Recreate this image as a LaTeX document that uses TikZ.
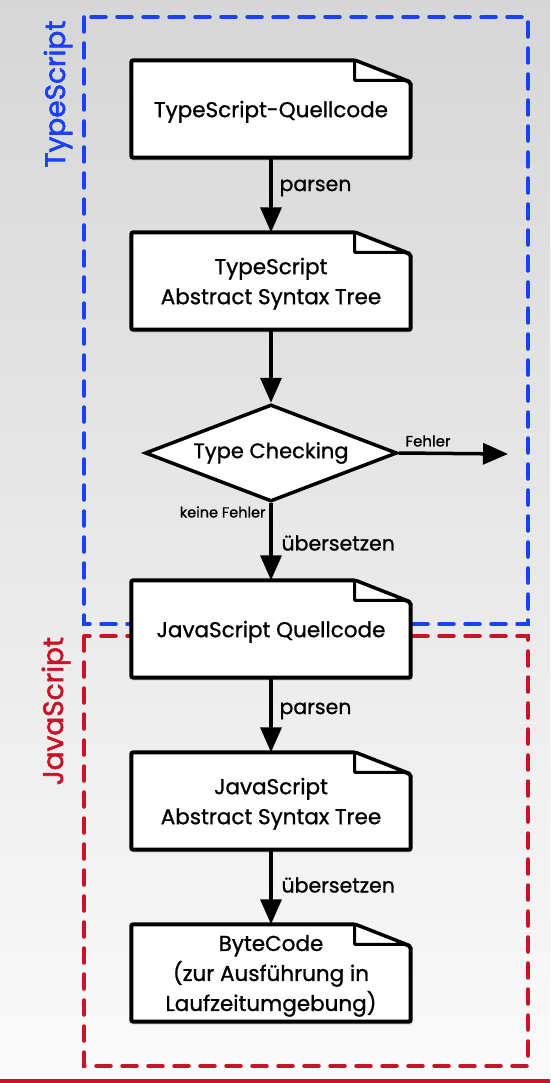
\documentclass[tikz,border=0pt]{standalone}
\usepackage{fontspec}
\setmainfont{Poppins}[FakeBold=1]
\usetikzlibrary{shapes.geometric,arrows.meta,shadows}
\definecolor{tsblue}{RGB}{25,65,250}
\definecolor{jsred}{RGB}{200,20,40}
\pgfdeclarelayer{bg}
\pgfsetlayers{bg,main}

\begin{document}
\begin{tikzpicture}[
  x=1pt, y=-1pt,
  doc/.style={minimum width=279pt, minimum height=97pt, inner sep=0pt, align=center, text depth=0pt, font=\fontsize{21.5}{30}\selectfont},
  check/.style={diamond, draw, line width=3.5pt, fill=white, aspect=2.6, minimum width=252pt, minimum height=97pt, inner sep=0pt, font=\fontsize{21}{24}\selectfont},
  flow/.style={line width=3.5pt, -{Triangle[length=25pt,width=21pt]}},
  lbl/.style={anchor=west, font=\fontsize{20.5}{22}\selectfont},
  small/.style={font=\fontsize{14.5}{16}\selectfont},
  area/.style={rotate=90, font=\fontsize{28}{30}\selectfont\addfontfeature{FakeBold=2}},
  frame/.style={line width=3.5pt, dash pattern=on 15pt off 11pt, line cap=round},
  docline/.style={line width=4pt, fill=white, rounded corners=2pt, drop shadow={opacity=0.25, shadow xshift=1pt, shadow yshift=-3pt}}
]
  \useasboundingbox (0,0) rectangle (550,1083);

  % the steps
  \node[doc] (tsq) at (271,109) {TypeScript-Quellcode};
  \node[doc] (tsast) at (271,281) {TypeScript\\Abstract Syntax Tree};
  \node[check] (chk) at (271,453) {Type Checking};
  \node[doc] (jsq) at (271,629) {JavaScript Quellcode};
  \node[doc] (jsast) at (271,801) {JavaScript\\Abstract Syntax Tree};
  \node[doc] (bc) at (271,973) {ByteCode\\(zur Ausführung in\\Laufzeitumgebung)};
  \coordinate (err) at (508,454);

  % the arrows
  \draw[flow] (tsq) -- (tsast);
  \draw[flow] (tsast) -- (chk);
  \draw[flow] (chk) -- (jsq);
  \draw[flow] (chk.east) -- (err);
  \draw[flow] (jsq) -- (jsast);
  \draw[flow] (jsast) -- (bc);

  \node[lbl] (parse1) at (276,188) {parsen};
  \node[small, anchor=west, font=\fontsize{15}{16}\selectfont] (fehler) at (402,441) {Fehler};
  \node[small, anchor=east] (ok) at (269,512) {keine Fehler};
  \node[lbl] (trans1) at (278,543) {übersetzen};
  \node[lbl] (parse2) at (276,711) {parsen};
  \node[lbl] (trans2) at (278,885) {übersetzen};

  % the two areas
  \node[area, text=tsblue] (tslabel) at (58,94) {TypeScript};
  \node[area, text=jsred] (jslabel) at (56,711) {JavaScript};

  \begin{pgfonlayer}{bg}
    \shade[top color=black!16, bottom color=black!2] (0,0) rectangle (550,1083);
    \fill[jsred] (0,1079) rectangle (550,1083);
    \draw[frame, tsblue] (84,17) rectangle (528,624);
    \draw[frame, jsred] (84,636) rectangle (528,1066);
    \foreach \d in {tsq,tsast,jsq,jsast,bc} {
      \draw[docline] (\d.north west) -- ([xshift=-56pt]\d.north east) -- ([yshift=-22pt]\d.north east) -- (\d.south east) -- (\d.south west) -- cycle;
      \draw[line width=3pt, fill=white, line join=round] ([xshift=-56pt]\d.north east) -- ([xshift=-56pt,yshift=-20pt]\d.north east) -- ([xshift=-5pt,yshift=-20pt]\d.north east) -- cycle;
    }
  \end{pgfonlayer}
\end{tikzpicture}
\end{document}
